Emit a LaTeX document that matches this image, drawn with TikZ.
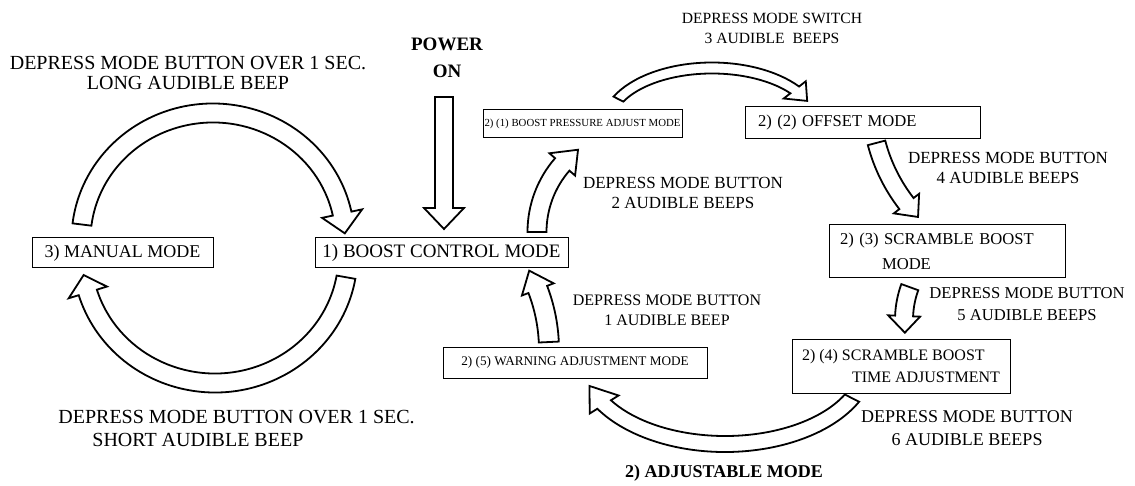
\documentclass[tikz,border=0pt]{standalone}
\usepackage{fontspec}
\setmainfont{Liberation Serif}
\usetikzlibrary{calc}
\tikzset{modebox/.style={draw,line width=0.5pt,inner sep=0pt},
  beeps/.style={align=center,inner sep=0pt},
  blockarrow/.style={draw,fill=white,line width=0.9pt,line join=miter}}
% hollow bent arrow along an ellipse: centre, radii, tail angle, head angle, tip offset, half shaft, half head
\newcommand{\bentarrow}[8]{%
  \draw[blockarrow,shift={#1}]
    ({(#2+#7)*cos(#4)},{(#3+#7)*sin(#4)}) arc[start angle=#4,end angle=#5,x radius=#2+#7,y radius=#3+#7]
    -- ({(#2+#8)*cos(#5)},{(#3+#8)*sin(#5)}) -- ({#2*cos(#5+#6)},{#3*sin(#5+#6)})
    -- ({(#2-#8)*cos(#5)},{(#3-#8)*sin(#5)}) -- ({(#2-#7)*cos(#5)},{(#3-#7)*sin(#5)})
    arc[start angle=#5,end angle=#4,x radius=#2-#7,y radius=#3-#7] -- cycle;}

\begin{document}
\begin{tikzpicture}[x=0.5pt,y=-0.5pt]
\fill[white] (0,0) rectangle (1135,486);
\useasboundingbox (0,0) rectangle (1135,486);
% --- mode boxes
\node[modebox,minimum width=90.5pt,minimum height=15pt,font=\fontsize{9}{11}\selectfont] (manual) at (122.5,253) {3) MANUAL MODE};
\node[modebox,minimum width=126.5pt,minimum height=15pt,font=\fontsize{9.5}{11}\selectfont] (boost) at (441.5,253) {1) BOOST CONTROL MODE};
\node[modebox,minimum width=99.5pt,minimum height=14pt,font=\fontsize{5.4}{7}\selectfont] (pressure) at (582.5,124) {2) (1) BOOST PRESSURE ADJUST MODE};
\node[modebox,minimum height=16pt,inner xsep=6.5pt,text width=104.5pt,align=left,font=\fontsize{8.3}{10}\selectfont] (offset) at (862.5,123) {2) (2) OFFSET MODE};
\node[modebox,minimum height=26.5pt,inner xsep=5.5pt,text width=107pt,align=left,font=\fontsize{8.3}{12.5}\selectfont] (scramble) at (947,251.5) {2) (3) SCRAMBLE BOOST\\\hspace*{21pt}MODE};
\node[modebox,minimum width=109pt,minimum height=27pt,align=left,font=\fontsize{8}{11}\selectfont] (scrtime) at (901,366) {2) (4) SCRAMBLE BOOST\\\hspace*{25pt}TIME ADJUSTMENT};
\node[modebox,minimum width=132pt,minimum height=15.5pt,font=\fontsize{6.6}{8}\selectfont] (warning) at (575,362.5) {2) (5) WARNING ADJUSTMENT MODE};
% --- texts
\node[beeps,font=\bfseries\fontsize{9.5}{13.5}\selectfont] (power) at (447,58) {POWER\\ON};
\node[beeps,font=\fontsize{10}{10}\selectfont] (longbeep) at (188,73) {DEPRESS MODE BUTTON OVER 1 SEC.\\LONG AUDIBLE BEEP};
\node[beeps,align=left,anchor=west,font=\fontsize{10}{11.5}\selectfont] (shortbeep) at (58,428) {DEPRESS MODE BUTTON OVER 1 SEC.\\\hspace*{17pt}SHORT AUDIBLE BEEP};
\node[beeps,font=\fontsize{7.8}{10}\selectfont] (beep3) at (772,28) {DEPRESS MODE SWITCH\\3 AUDIBLE\ \ BEEPS};
\node[beeps,font=\fontsize{8.5}{10}\selectfont] (beep2) at (683,193) {DEPRESS MODE BUTTON\\2 AUDIBLE BEEPS};
\node[beeps,font=\fontsize{8.5}{10}\selectfont] (beep4) at (1008,168) {DEPRESS MODE BUTTON\\4 AUDIBLE BEEPS};
\node[beeps,font=\fontsize{8.3}{11}\selectfont] (beep5) at (1027,304) {DEPRESS MODE BUTTON\\5 AUDIBLE BEEPS};
\node[beeps,font=\fontsize{8}{10}\selectfont] (beep1) at (667,310) {DEPRESS MODE BUTTON\\1 AUDIBLE BEEP};
\node[beeps,font=\fontsize{9}{11.5}\selectfont] (beep6) at (967,428) {DEPRESS MODE BUTTON\\6 AUDIBLE BEEPS};
\node[beeps,font=\bfseries\fontsize{9}{11}\selectfont] (adjust) at (724,473) {2) ADJUSTABLE MODE};
% --- block arrows
\draw[blockarrow] (435,97) -- (453,97) -- (453,208) -- (464,208) -- (444,229) -- (424,208) -- (435,208) -- cycle;
\bentarrow{(213,240)}{132}{127}{187}{348}{9}{9.5}{20.5}
\bentarrow{(215,255)}{133}{128}{10}{163}{8}{9.5}{20}
\bentarrow{(640,232)}{103}{103}{180}{221}{12}{9.5}{17}
\bentarrow{(712,125)}{105}{57}{207}{322}{13}{5.5}{14}
\bentarrow{(1040,100)}{169}{169}{165.3}{142.2}{-6}{9}{16}
\bentarrow{(1000,320)}{96}{96}{200}{182.4}{-10}{9}{16}
\bentarrow{(725,360)}{142.5}{84}{27}{148}{14}{8}{17}
\bentarrow{(380,350)}{169}{169}{357.3}{339}{-7}{10}{17}
\end{tikzpicture}
\end{document}
